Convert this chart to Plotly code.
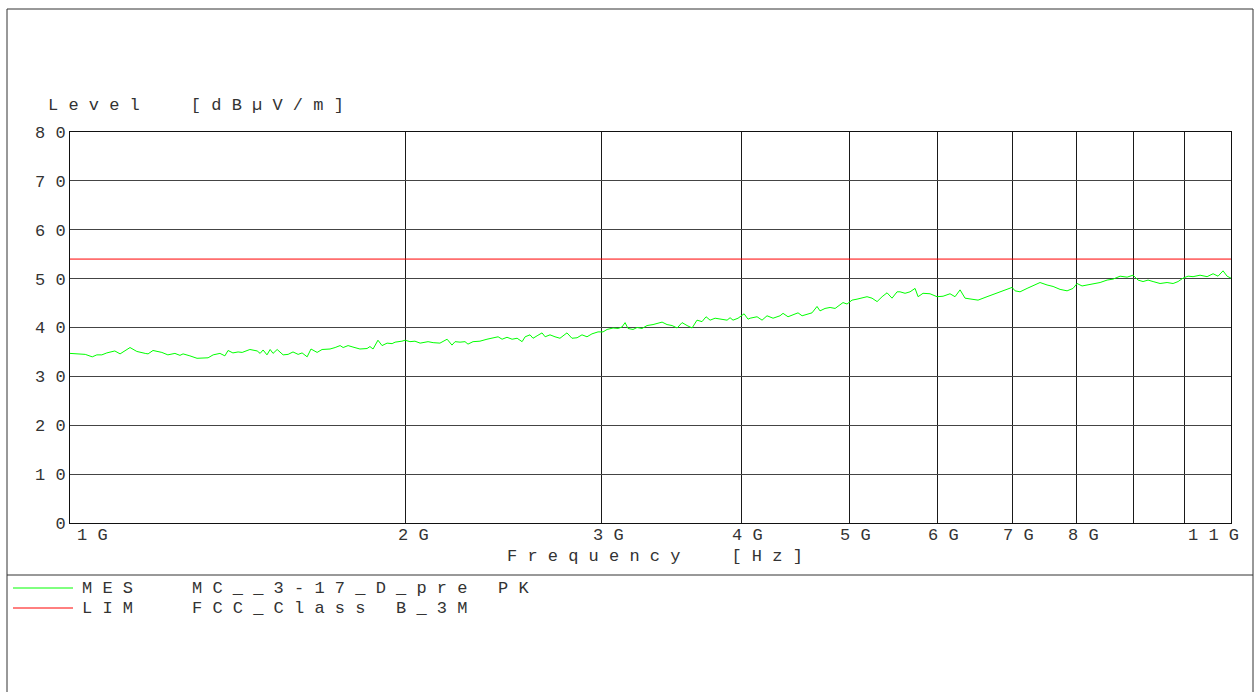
import math
import plotly.graph_objects as go

# ---------------- data ----------------
freq_ghz = [
    1.000, 1.017, 1.032, 1.047, 1.057, 1.068, 1.079, 1.097, 1.109, 1.132,
    1.148, 1.168, 1.175, 1.187, 1.209, 1.224, 1.242, 1.255, 1.263, 1.281,
    1.300, 1.330, 1.344, 1.363, 1.377, 1.386, 1.400, 1.415,
    1.427, 1.450, 1.472, 1.481, 1.490, 1.502, 1.512, 1.521, 1.534, 1.553,
    1.569, 1.585, 1.602, 1.615, 1.632, 1.645, 1.666, 1.683, 1.711, 1.729,
    1.747, 1.758, 1.776, 1.794, 1.820, 1.847, 1.858, 1.870, 1.889, 1.905,
    1.925, 1.945, 1.957, 1.985, 1.998,
    2.018, 2.039, 2.061, 2.095, 2.117, 2.147, 2.179, 2.201, 2.215, 2.238,
    2.261, 2.275, 2.299, 2.332, 2.366, 2.391, 2.421, 2.441, 2.466, 2.492,
    2.518, 2.544, 2.560, 2.586, 2.602, 2.624, 2.651, 2.668, 2.695, 2.723,
    2.751, 2.791, 2.820, 2.850, 2.879, 2.909, 2.939, 2.976, 3.007,
    3.032, 3.070, 3.102, 3.127, 3.147, 3.166, 3.199, 3.226, 3.259, 3.293,
    3.334, 3.397, 3.432, 3.468, 3.504, 3.540, 3.577, 3.614, 3.651, 3.689,
    3.720, 3.751, 3.790, 3.829, 3.885, 3.909, 3.933, 3.974, 4.024, 4.057,
    4.074, 4.133, 4.176, 4.219, 4.272, 4.334, 4.361, 4.406, 4.452, 4.498,
    4.536, 4.583, 4.630, 4.678, 4.707, 4.756, 4.806, 4.856, 4.906, 4.936,
    4.977, 5.029, 5.081, 5.134, 5.187, 5.241, 5.296, 5.351, 5.406, 5.462,
    5.519,
    5.553, 5.611, 5.669, 5.728, 5.764, 5.823, 5.908, 5.994, 6.069, 6.157,
    6.221, 6.286, 6.351, 6.444, 6.524, 6.646, 6.785, 6.927, 6.999, 7.042,
    7.115, 7.219, 7.309, 7.415, 7.523, 7.617, 7.728, 7.841, 7.938, 8.004,
    8.087, 8.171, 8.273, 8.394, 8.516, 8.622, 8.748, 8.875, 8.986, 9.079,
    9.173, 9.268, 9.365, 9.501, 9.639, 9.760, 9.861, 9.963, 10.067, 10.171,
    10.319, 10.470, 10.600, 10.710, 10.821, 10.911, 11.000,
]
level_dbuv = [
    34.7, 34.6, 34.5, 34.0, 34.4, 34.4, 34.8, 35.2, 34.6, 35.9,
    35.1, 34.7, 34.6, 35.3, 34.9, 34.4, 34.7, 34.3, 34.6, 34.2,
    33.7, 33.8, 34.4, 34.7, 34.2, 35.3, 34.8, 35.0,
    34.9, 35.5, 35.2, 34.7, 35.4, 34.4, 35.5, 34.7, 35.5, 34.4,
    34.5, 35.0, 34.5, 34.8, 34.0, 35.6, 34.9, 35.5, 35.6, 35.9,
    36.3, 35.9, 36.3, 36.0, 35.6, 35.7, 36.1, 35.6, 37.4, 36.3,
    36.8, 36.7, 37.0, 37.2, 37.4,
    37.1, 37.2, 36.8, 37.1, 36.9, 36.8, 37.6, 36.4, 37.1, 37.0,
    37.1, 36.6, 37.1, 37.2, 37.6, 37.8, 38.1, 37.6, 38.0, 37.6,
    37.8, 37.1, 38.1, 38.5, 37.8, 38.3, 38.9, 38.1, 38.5, 38.1,
    37.8, 38.9, 37.8, 37.9, 38.5, 38.1, 38.7, 39.1, 39.1,
    39.6, 39.9, 39.8, 40.1, 41.0, 39.8, 39.6, 40.0, 39.8, 40.4,
    40.6, 41.1, 40.6, 40.4, 39.9, 41.0, 40.4, 39.9, 41.5, 41.2,
    42.2, 41.5, 41.9, 41.7, 41.5, 42.0, 41.5, 41.9, 42.8, 41.7,
    41.9, 42.2, 41.5, 42.4, 41.9, 42.4, 42.9, 42.2, 42.6, 43.0,
    42.4, 42.7, 43.0, 44.3, 43.4, 43.9, 44.1, 43.9, 44.6, 45.1,
    44.8, 45.6, 45.8, 46.0, 46.3, 46.0, 45.3, 46.3, 47.1, 46.0,
    47.3,
    47.3, 47.0, 47.3, 48.0, 46.3, 47.0, 46.9, 46.3, 46.4, 46.9,
    46.3, 47.7, 46.0, 45.8, 45.6, 46.3, 47.0, 47.7, 48.2, 47.5,
    47.3, 48.0, 48.5, 49.2, 48.7, 48.4, 47.8, 47.5, 48.0, 49.0,
    48.5, 48.7, 49.0, 49.2, 49.7, 49.9, 50.5, 50.3, 50.7, 49.7,
    49.4, 49.7, 49.4, 49.0, 49.2, 49.0, 49.4, 50.1, 50.5, 50.4,
    50.7, 50.4, 51.0, 50.5, 51.6, 50.5, 50.1,
]
lim_freq_ghz = [1.0, 11.0]
lim_level = [54.0, 54.0]

y_ticks = [0, 10, 20, 30, 40, 50, 60, 70, 80]
x_grid_ghz = [2, 3, 4, 5, 6, 7, 8, 9, 10]
x_label_ghz = [1, 2, 3, 4, 5, 6, 7, 8, 11]
x_label_text = ["1G", "2G", "3G", "4G", "5G", "6G", "7G", "8G", "11G"]
x_label_shift = [5, -10, -11, -11, -11, -12, -11, -11, -45]

y_title = "Level  [dBµV/m]"
x_title = "Frequency  [Hz]"
legend_rows = [("MES", "MC__3-17_D_pre PK", "#00ff00"),
               ("LIM", "FCC_Class B_3M", "#ff0000")]

# ---------------- styling helpers ----------------
W, H = 1255, 692
PL, PR, PT, PB = 70, 1231, 132, 523     # plot area in pixels
FONT = "Liberation Mono"
FS = 17
TXT = "#333333"
NB = "\u00a0"


def spaced(s):
    return NB.join(NB if ch == " " else ch for ch in s)


def px(xp):
    return (xp - PL) / (PR - PL)


def py(yp):
    return (PB - yp) / (PB - PT)


fig = go.Figure()
fig.add_trace(go.Scatter(
    x=[f * 1e9 for f in lim_freq_ghz], y=lim_level, mode="lines",
    line=dict(color="#ff0000", width=1), showlegend=False, hoverinfo="skip"))
fig.add_trace(go.Scatter(
    x=[f * 1e9 for f in freq_ghz], y=level_dbuv, mode="lines",
    line=dict(color="#00ff00", width=1), showlegend=False))

annotations = []
# x tick labels
for g, t, sh in zip(x_label_ghz, x_label_text, x_label_shift):
    annotations.append(dict(
        x=math.log10(g * 1e9), xref="x", y=0, yref="paper",
        xanchor="left", yanchor="middle", xshift=sh, yshift=-12,
        text=spaced(t), showarrow=False,
        font=dict(family=FONT, size=FS, color=TXT)))
# axis titles
annotations.append(dict(x=px(46), y=py(106), xref="paper", yref="paper",
                        xanchor="left", yanchor="middle", text=spaced(y_title),
                        showarrow=False, font=dict(family=FONT, size=FS, color=TXT)))
annotations.append(dict(x=px(505), y=py(556), xref="paper", yref="paper",
                        xanchor="left", yanchor="middle", text=spaced(x_title),
                        showarrow=False, font=dict(family=FONT, size=FS, color=TXT)))

shapes = [
    # outer frame
    dict(type="rect", xref="paper", yref="paper", x0=px(7), x1=px(1253),
         y0=py(720), y1=py(9), line=dict(color="#333333", width=1)),
    # separator above legend
    dict(type="line", xref="paper", yref="paper", x0=px(7), x1=px(1253),
         y0=py(575), y1=py(575), line=dict(color="#333333", width=1)),
]
row_y = [588, 608]
for (tag, name, col), ry in zip(legend_rows, row_y):
    shapes.append(dict(type="line", xref="paper", yref="paper",
                       x0=px(13), x1=px(73), y0=py(ry), y1=py(ry),
                       line=dict(color=col, width=1)))
    annotations.append(dict(x=px(80), y=py(ry), xref="paper", yref="paper",
                            xanchor="left", yanchor="middle", text=spaced(tag),
                            showarrow=False, font=dict(family=FONT, size=FS, color=TXT)))
    annotations.append(dict(x=px(190), y=py(ry), xref="paper", yref="paper",
                            xanchor="left", yanchor="middle", text=spaced(name),
                            showarrow=False, font=dict(family=FONT, size=FS, color=TXT)))

fig.update_layout(
    width=W, height=H,
    margin=dict(l=PL, r=W - PR, t=PT, b=H - PB, pad=0),
    paper_bgcolor="white", plot_bgcolor="white",
    showlegend=False,
    annotations=annotations, shapes=shapes,
    xaxis=dict(type="log", range=[9, math.log10(11e9)],
               tickvals=[g * 1e9 for g in x_grid_ghz], showticklabels=False,
               ticks="", showgrid=True, gridcolor="#1a1a1a", gridwidth=1,
               showline=True, linecolor="#111111", linewidth=1, mirror=True,
               zeroline=False),
    yaxis=dict(range=[0, 80], tickvals=y_ticks,
               ticktext=[spaced(str(v)) for v in y_ticks],
               tickfont=dict(family=FONT, size=FS, color=TXT),
               ticks="", showgrid=True, gridcolor="#444444", gridwidth=1,
               showline=True, linecolor="#111111", linewidth=1, mirror=True,
               zeroline=False),
)

fig.write_html("out.html",
               config={"displayModeBar": False},
               post_script="document.body.style.margin='0px';document.body.style.overflow='hidden';")
